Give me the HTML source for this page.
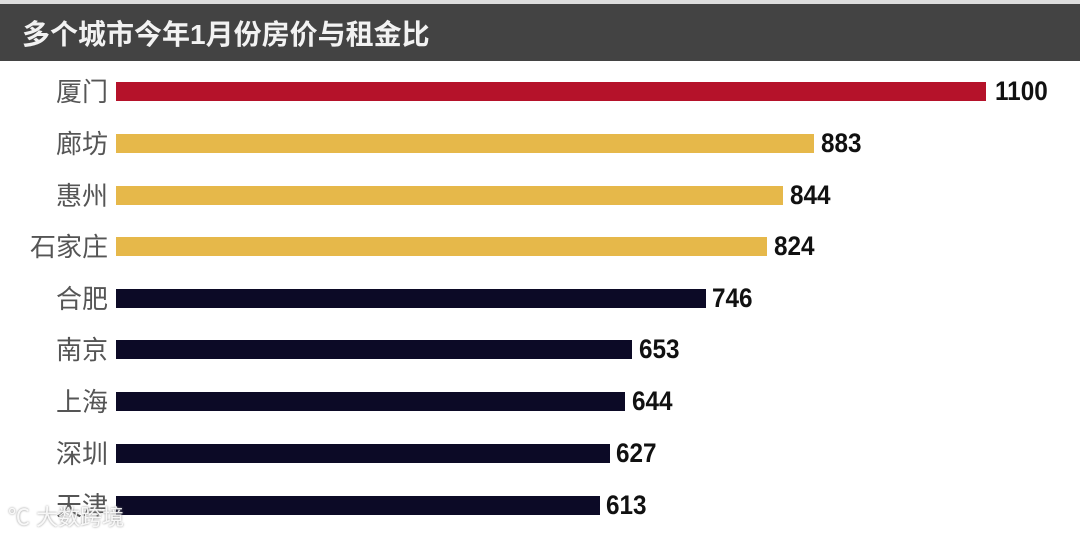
<!DOCTYPE html>
<html><head><meta charset="utf-8"><style>
body{margin:0;width:1080px;height:534px;background:#fff;position:relative;overflow:hidden;font-family:"Liberation Sans","Noto Sans CJK SC",sans-serif}
.hdr{position:absolute;left:0;top:4px;width:1080px;height:57px;background:#434343}
.hdr span{position:absolute;left:22px;top:9px;color:#f2f2f2;font-size:28px;font-weight:bold;letter-spacing:0px}
.top{position:absolute;left:0;top:0;width:1080px;height:4px;background:#ddd}
.lab{position:absolute;right:972px;color:#555;font-size:26px;line-height:30px;white-space:nowrap}
.bar{position:absolute;left:116px;height:19px}
.val{position:absolute;font-family:"Liberation Sans Narrow","Liberation Sans",sans-serif;font-weight:bold;font-size:27px;line-height:30px;color:#111;transform:scaleX(0.9);transform-origin:left}
.wm{position:absolute;left:8px;top:500px;color:rgba(255,255,255,0.9);font-size:22px;text-shadow:0 0 2px #888}
</style></head><body>
<div class="top"></div>
<div class="hdr"><span>多个城市今年1月份房价与租金比</span></div>

<div class="lab" style="top:77px">厦门</div><div class="bar" style="top:82px;width:870px;background:#b5122a"></div><div class="val" style="left:995px;top:76px">1100</div>
<div class="lab" style="top:129px">廊坊</div><div class="bar" style="top:134px;width:698px;background:#e6b84a"></div><div class="val" style="left:821px;top:128px">883</div>
<div class="lab" style="top:181px">惠州</div><div class="bar" style="top:186px;width:667px;background:#e6b84a"></div><div class="val" style="left:790px;top:180px">844</div>
<div class="lab" style="top:232px">石家庄</div><div class="bar" style="top:237px;width:651px;background:#e6b84a"></div><div class="val" style="left:774px;top:231px">824</div>
<div class="lab" style="top:284px">合肥</div><div class="bar" style="top:289px;width:590px;background:#0c0a26"></div><div class="val" style="left:712px;top:283px">746</div>
<div class="lab" style="top:335px">南京</div><div class="bar" style="top:340px;width:516px;background:#0c0a26"></div><div class="val" style="left:639px;top:334px">653</div>
<div class="lab" style="top:387px">上海</div><div class="bar" style="top:392px;width:509px;background:#0c0a26"></div><div class="val" style="left:632px;top:386px">644</div>
<div class="lab" style="top:439px">深圳</div><div class="bar" style="top:444px;width:494px;background:#0c0a26"></div><div class="val" style="left:616px;top:438px">627</div>
<div class="lab" style="top:491px">天津</div><div class="bar" style="top:496px;width:484px;background:#0c0a26"></div><div class="val" style="left:606px;top:490px">613</div>
<div class="wm">℃ 大数跨境</div>
</body></html>
